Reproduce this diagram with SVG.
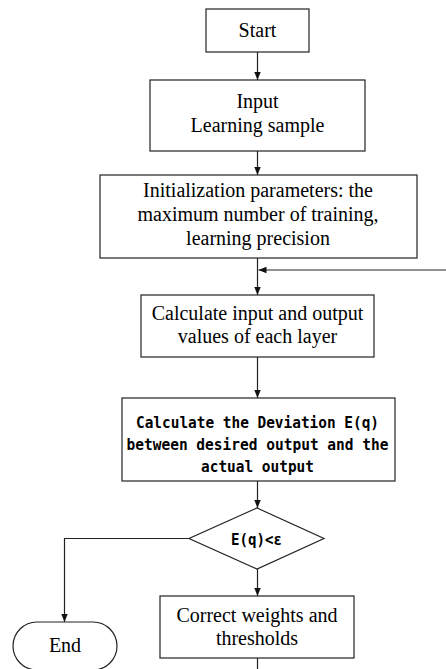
<svg xmlns="http://www.w3.org/2000/svg" width="446" height="669" viewBox="0 0 446 669">
<defs>
<style>
.box{fill:#fff;stroke:#222;stroke-width:1.2}
.ln{fill:none;stroke:#222;stroke-width:1.2}
.t{font-family:"Liberation Serif","Times New Roman",serif;font-size:20px;fill:#000;text-anchor:middle}
.m{font-family:"DejaVu Sans Mono","Liberation Mono",monospace;font-size:16.5px;font-weight:bold;fill:#000;text-anchor:middle}
</style>
<marker id="ah" viewBox="0 0 10 10" refX="10" refY="5" markerWidth="8" markerHeight="8" markerUnits="userSpaceOnUse" orient="auto">
<path d="M0,1 L10,5 L0,9 Z" fill="#111"/>
</marker>
</defs>
<rect width="446" height="669" fill="#fff"/>
<g id="connectors">
<line class="ln" x1="257.5" y1="52" x2="257.5" y2="80" marker-end="url(#ah)"/>
<line class="ln" x1="257.5" y1="151" x2="257.5" y2="175" marker-end="url(#ah)"/>
<line class="ln" x1="257.5" y1="258" x2="257.5" y2="295" marker-end="url(#ah)"/>
<line class="ln" x1="446" y1="270" x2="258.5" y2="270" marker-end="url(#ah)"/>
<line class="ln" x1="257.5" y1="357" x2="257.5" y2="398" marker-end="url(#ah)"/>
<line class="ln" x1="257.5" y1="481" x2="257.5" y2="508" marker-end="url(#ah)"/>
<line class="ln" x1="257.5" y1="569" x2="257.5" y2="596" marker-end="url(#ah)"/>
<polyline class="ln" points="189,538.5 64.5,538.5 64.5,622" marker-end="url(#ah)"/>
<line class="ln" x1="257.5" y1="658" x2="257.5" y2="669"/>
</g>
<g id="start">
<rect class="box" x="206" y="9" width="103" height="43"/>
<text class="t" x="257.5" y="37">Start</text>
</g>
<g id="input">
<rect class="box" x="150" y="80" width="215" height="71"/>
<text class="t" x="257.5" y="108">Input</text>
<text class="t" x="257.5" y="132">Learning sample</text>
</g>
<g id="init">
<rect class="box" x="100" y="175" width="317" height="83"/>
<text class="t" x="258" y="197">Initialization parameters: the</text>
<text class="t" x="258" y="221">maximum number of training,</text>
<text class="t" x="258" y="245">learning precision</text>
</g>
<g id="calc">
<rect class="box" x="141" y="295" width="233" height="62"/>
<text class="t" x="257.5" y="320">Calculate input and output</text>
<text class="t" x="257.5" y="343">values of each layer</text>
</g>
<g id="deviation">
<rect class="box" x="122" y="398" width="273" height="83"/>
<text class="m" x="257.5" y="428" textLength="243" lengthAdjust="spacingAndGlyphs">Calculate the Deviation E(q)</text>
<text class="m" x="257.5" y="450" textLength="262" lengthAdjust="spacingAndGlyphs">between desired output and the</text>
<text class="m" x="257.5" y="472" textLength="113" lengthAdjust="spacingAndGlyphs">actual output</text>
</g>
<g id="decision">
<polygon class="box" points="257,508 324,538.5 257,569 189,538.5"/>
<text class="m" x="256.5" y="545" textLength="51" lengthAdjust="spacingAndGlyphs">E(q)&lt;ε</text>
</g>
<g id="correct">
<rect class="box" x="160" y="596" width="194" height="62"/>
<text class="t" x="257" y="622">Correct weights and</text>
<text class="t" x="257" y="645">thresholds</text>
</g>
<g id="end">
<rect class="box" x="13" y="622" width="104" height="48" rx="24" ry="24"/>
<text class="t" x="65" y="652">End</text>
</g>
</svg>
